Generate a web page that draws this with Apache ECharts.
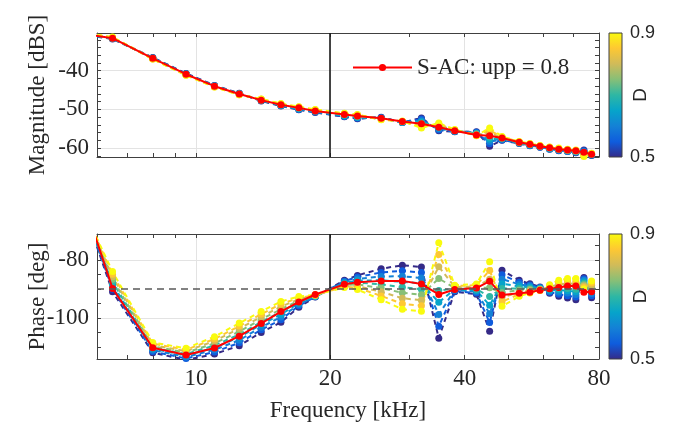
<!DOCTYPE html>
<html>
<head>
<meta charset="utf-8">
<script src="https://cdn.jsdelivr.net/npm/echarts@6/dist/echarts.min.js"></script>
<style>
  html, body { margin: 0; padding: 0; background: #ffffff; }
  #chart { width: 674px; height: 426px; }
</style>
</head>
<body>
<div id="chart"></div>
<script>
// Measurement frequencies, kHz
const freq = [5.0, 6.5, 8.0, 9.5, 11.0, 12.5, 14.0, 15.5, 17.0, 18.5, 21.5, 23.0, 26.0, 29.0, 32.0,
              35.0, 38.0, 42.5, 45.5, 48.5, 53.0, 56.0, 59.0, 62.0, 65.0, 68.0, 71.0, 74.0, 77.0];

// Duty-cycle sweep
const dutyValues = [0.50, 0.55, 0.60, 0.65, 0.70, 0.75, 0.80, 0.85, 0.90];
const dutyRange = [0.5, 0.9];

// Magnitude [dBS] per duty cycle
const magD050 = [-29.8,-31.8,-36.6,-40.7,-43.8,-45.8,-47.8,-49.1,-50.1,-50.8,-51.9,-52.4,-52.0,-53.4,-52.2,-55.5,-55.8,-55.8,-59.5,-58.0,-58.8,-59.4,-59.8,-60.3,-60.7,-60.9,-61.2,-60.5,-61.9];
const magD055 = [-29.8,-31.7,-36.7,-40.8,-43.9,-45.9,-47.7,-49.0,-50.0,-50.7,-51.8,-52.3,-52.1,-53.4,-52.5,-55.3,-55.7,-55.9,-58.9,-57.9,-58.7,-59.3,-59.7,-60.2,-60.6,-60.8,-61.1,-60.7,-61.8];
const magD060 = [-29.7,-31.7,-36.7,-40.8,-43.9,-45.9,-47.7,-49.0,-49.9,-50.6,-51.7,-52.1,-52.2,-53.3,-52.9,-55.0,-55.7,-56.1,-58.3,-57.8,-58.7,-59.3,-59.7,-60.2,-60.5,-60.8,-61.0,-60.9,-61.8];
const magD065 = [-29.7,-31.6,-36.8,-40.9,-44.0,-46.0,-47.6,-48.9,-49.8,-50.5,-51.6,-52.0,-52.3,-53.3,-53.2,-54.8,-55.6,-56.2,-57.7,-57.6,-58.6,-59.2,-59.6,-60.1,-60.4,-60.7,-60.9,-61.1,-61.7];
const magD070 = [-29.6,-31.6,-36.8,-41.0,-44.0,-46.0,-47.6,-48.8,-49.7,-50.4,-51.5,-51.9,-52.4,-53.2,-53.5,-54.5,-55.5,-56.3,-57.2,-57.5,-58.6,-59.1,-59.6,-60.0,-60.4,-60.6,-60.9,-61.4,-61.6];
const magD075 = [-29.6,-31.5,-36.9,-41.0,-44.1,-46.1,-47.5,-48.7,-49.6,-50.3,-51.3,-51.7,-52.4,-53.2,-53.8,-54.3,-55.4,-56.4,-56.6,-57.4,-58.5,-59.0,-59.5,-59.9,-60.3,-60.5,-60.8,-61.6,-61.5];
const magD080 = [-29.5,-31.4,-36.9,-41.1,-44.1,-46.1,-47.4,-48.7,-49.5,-50.2,-51.2,-51.6,-52.5,-53.1,-54.2,-54.0,-55.4,-56.6,-56.0,-57.3,-58.4,-59.0,-59.4,-59.9,-60.2,-60.5,-60.7,-61.8,-61.5];
const magD085 = [-29.5,-31.4,-37.0,-41.1,-44.2,-46.2,-47.4,-48.6,-49.4,-50.1,-51.1,-51.4,-52.6,-53.1,-54.5,-53.8,-55.3,-56.7,-55.4,-57.1,-58.4,-58.9,-59.4,-59.8,-60.1,-60.4,-60.6,-62.0,-61.4];
const magD090 = [-29.4,-31.3,-37.0,-41.2,-44.2,-46.2,-47.3,-48.5,-49.3,-50.0,-51.0,-51.3,-52.7,-53.0,-54.8,-53.5,-55.2,-56.8,-54.8,-57.0,-58.3,-58.8,-59.3,-59.7,-60.0,-60.3,-60.5,-62.2,-61.3];

// Phase [deg] per duty cycle
const phD050 = [-40.0,-91.0,-112.0,-114.5,-112.5,-109.6,-105.0,-101.5,-96.3,-92.8,-87.0,-85.3,-83.0,-81.8,-82.4,-107.0,-91.0,-91.8,-104.6,-83.5,-87.0,-88.2,-89.3,-91.5,-92.5,-93.1,-93.7,-86.0,-93.0];
const phD055 = [-40.8,-90.1,-111.6,-114.0,-111.8,-108.6,-104.1,-100.6,-95.8,-92.7,-87.3,-85.9,-84.3,-83.7,-84.3,-102.9,-90.7,-91.4,-101.6,-85.1,-87.7,-88.6,-89.5,-91.1,-91.8,-92.3,-92.8,-86.5,-92.3];
const phD060 = [-41.6,-89.3,-111.1,-113.5,-111.0,-107.7,-103.2,-99.7,-95.4,-92.6,-87.6,-86.5,-85.7,-85.6,-86.2,-98.8,-90.4,-90.9,-98.6,-86.6,-88.4,-89.0,-89.6,-90.8,-91.1,-91.4,-91.9,-87.0,-91.6];
const phD065 = [-42.4,-88.4,-110.7,-113.0,-110.3,-106.7,-102.3,-98.8,-94.9,-92.5,-87.9,-87.1,-87.0,-87.5,-88.1,-94.6,-90.1,-90.5,-95.6,-88.2,-89.1,-89.4,-89.8,-90.4,-90.4,-90.6,-91.0,-87.5,-90.8];
const phD070 = [-43.3,-87.5,-110.3,-112.5,-109.5,-105.7,-101.4,-97.9,-94.5,-92.4,-88.3,-87.8,-88.4,-89.4,-90.1,-90.5,-89.9,-90.1,-92.6,-89.8,-89.8,-89.8,-89.9,-90.0,-89.8,-89.8,-90.1,-88.0,-90.1];
const phD075 = [-44.1,-86.6,-109.8,-112.0,-108.8,-104.7,-100.5,-97.0,-94.0,-92.3,-88.6,-88.4,-89.7,-91.3,-92.0,-86.4,-89.6,-89.6,-89.6,-91.3,-90.4,-90.2,-90.1,-89.6,-89.1,-88.9,-89.1,-88.5,-89.4];
const phD080 = [-44.9,-85.8,-109.4,-111.5,-108.0,-103.7,-99.6,-96.1,-93.5,-92.2,-88.9,-89.0,-91.0,-93.2,-93.9,-82.3,-89.3,-89.2,-86.6,-92.9,-91.1,-90.6,-90.2,-89.3,-88.4,-88.1,-88.2,-89.0,-88.7];
const phD085 = [-45.7,-84.9,-108.9,-111.0,-107.3,-102.8,-98.7,-95.2,-93.1,-92.1,-89.2,-89.6,-92.4,-95.1,-95.8,-78.1,-89.0,-88.7,-83.6,-94.4,-91.8,-91.0,-90.4,-88.9,-87.7,-87.2,-87.3,-89.5,-87.9];
const phD090 = [-46.5,-84.0,-108.5,-110.5,-106.5,-101.8,-97.8,-94.3,-92.6,-92.0,-89.5,-90.2,-93.7,-97.0,-97.7,-74.0,-88.7,-88.3,-80.6,-96.0,-92.5,-91.4,-90.5,-88.5,-87.0,-86.4,-86.4,-90.0,-87.2];

// S-AC reference, upp = 0.8
const sacName = 'S-AC: upp = 0.8';
const sacMag   = [-29.6,-31.6,-36.8,-40.9,-44.0,-46.0,-47.6,-48.8,-49.6,-50.4,-51.3,-51.7,-52.3,-53.1,-53.7,-54.6,-55.5,-56.6,-56.8,-57.4,-58.5,-59.0,-59.5,-59.9,-60.3,-60.5,-60.7,-61.1,-61.6];
const sacPhase = [-36.8,-89.8,-110.3,-112.8,-110.4,-106.3,-101.9,-97.8,-94.5,-91.9,-88.4,-87.7,-87.2,-87.2,-88.3,-91.9,-90.2,-89.7,-87.3,-92.1,-91.5,-91.1,-90.4,-89.9,-89.5,-89.0,-89.0,-91.1,-91.0];

// Axis limits, ticks and labels
const freqLimits = [6, 80];
const freqTicks = [6, 7, 8, 9, 10, 20, 30, 40, 50, 60, 70, 80];
const freqTickLabels = [10, 20, 40, 80];
const freqMarker = 20;
const magLimits = [-62.3, -30.25];
const magTicks = [-62, -60, -58, -56, -54, -52, -50, -48, -46, -44, -42, -40, -38, -36, -34, -32];
const magTickLabels = [-60, -50, -40];
const phaseLimits = [-114.2, -71.0];
const phaseTicks = [-110, -105, -100, -95, -90, -85, -80, -75];
const phaseTickLabels = [-100, -80];
const phaseRef = -90;
const dutyTickLabels = [0.5, 0.9];

const magSeries = [magD050, magD055, magD060, magD065, magD070, magD075, magD080, magD085, magD090];
const phaseSeries = [phD050, phD055, phD060, phD065, phD070, phD075, phD080, phD085, phD090];

// Parula-like colormap
const parulaStops = [[53,42,135],[15,92,221],[20,129,214],[6,164,202],[46,183,164],[135,191,119],[209,187,89],[254,200,50],[249,251,14]];
function parula(t) {
  const n = parulaStops.length - 1;
  const p = Math.min(Math.max(t, 0), 1) * n;
  const i = Math.min(Math.floor(p), n - 1);
  const f = p - i;
  const a = parulaStops[i], b = parulaStops[i + 1];
  const c = a.map((v, j) => Math.round(v + (b[j] - v) * f));
  return 'rgb(' + c.join(',') + ')';
}
const dutyColor = d => parula((d - dutyRange[0]) / (dutyRange[1] - dutyRange[0]));

const L2 = Math.log2;
const AX = '#404040';
const TXT = '#262626';
const SERIF = 'Liberation Serif';
const SANS = 'Liberation Sans';
const TICK = 4;

const G = [
  { left: 97, top: 33, width: 502, height: 124 },
  { left: 97, top: 234, width: 502, height: 125 }
];
const CB = [
  { left: 609, top: 33, width: 13, height: 124 },
  { left: 609, top: 234, width: 13, height: 125 }
];

function xAxesFor(gi, withLabels) {
  const base = { type: 'value', gridIndex: gi, min: L2(freqLimits[0]), max: L2(freqLimits[1]) };
  return [
    Object.assign({}, base, {
      position: 'bottom',
      axisLine: { show: true, onZero: false, lineStyle: { color: AX, width: 1 } },
      axisTick: { show: true, inside: true, length: TICK, customValues: freqTicks.map(L2), lineStyle: { color: AX } },
      axisLabel: { show: withLabels, customValues: freqTickLabels.map(L2), formatter: v => String(Math.round(Math.pow(2, v))),
                   fontFamily: SERIF, fontSize: 23, color: TXT, margin: 8 },
      splitLine: { show: false },
      name: withLabels ? 'Frequency [kHz]' : '', nameLocation: 'middle', nameGap: 40, nameMoveOverlap: false,
      nameTextStyle: { fontFamily: SERIF, fontSize: 23, color: TXT }
    }),
    Object.assign({}, base, {
      position: 'top',
      axisLine: { show: true, onZero: false, lineStyle: { color: AX, width: 1 } },
      axisTick: { show: true, inside: true, length: TICK, customValues: freqTicks.map(L2), lineStyle: { color: AX } },
      axisLabel: { show: false }, splitLine: { show: false }
    }),
    Object.assign({}, base, {
      position: 'bottom',
      axisLine: { show: false, onZero: false },
      axisTick: { show: false, customValues: freqTickLabels.map(L2) },
      axisLabel: { show: false },
      splitLine: { show: true, lineStyle: { color: '#e3e3e3', width: 1 } }
    })
  ];
}

function yAxesFor(gi, limits, ticks, labels, name) {
  const base = { type: 'value', gridIndex: gi, min: limits[0], max: limits[1] };
  return [
    Object.assign({}, base, {
      position: 'left',
      axisLine: { show: true, onZero: false, lineStyle: { color: AX, width: 1 } },
      axisTick: { show: true, inside: true, length: TICK, customValues: ticks, lineStyle: { color: AX } },
      axisLabel: { show: true, customValues: labels, fontFamily: SERIF, fontSize: 23, color: TXT, margin: 8 },
      splitLine: { show: false },
      name: name, nameLocation: 'middle', nameGap: 48, nameRotate: 90, nameMoveOverlap: false,
      nameTextStyle: { fontFamily: SERIF, fontSize: 23, color: TXT }
    }),
    Object.assign({}, base, {
      position: 'right',
      axisLine: { show: true, onZero: false, lineStyle: { color: AX, width: 1 } },
      axisTick: { show: true, inside: true, length: TICK, customValues: ticks, lineStyle: { color: AX } },
      axisLabel: { show: false }, splitLine: { show: false }
    }),
    Object.assign({}, base, {
      position: 'left',
      axisLine: { show: false, onZero: false },
      axisTick: { show: false, customValues: labels },
      axisLabel: { show: false },
      splitLine: { show: true, lineStyle: { color: '#e3e3e3', width: 1 } }
    })
  ];
}

const xAxis = [].concat(xAxesFor(0, false), xAxesFor(1, true), [
  { type: 'value', gridIndex: 2, min: 0, max: 1, show: false },
  { type: 'value', gridIndex: 3, min: 0, max: 1, show: false }
]);

function colorbarAxis(gi) {
  return {
    type: 'value', gridIndex: gi, position: 'right', min: dutyRange[0], max: dutyRange[1],
    axisLine: { show: false }, axisTick: { show: false }, splitLine: { show: false },
    axisLabel: { show: true, customValues: dutyTickLabels, formatter: v => v.toFixed(1),
                 fontFamily: SANS, fontSize: 18, color: TXT, margin: 8 },
    name: 'D', nameLocation: 'middle', nameGap: 9, nameRotate: 90, nameMoveOverlap: false,
    nameTextStyle: { fontFamily: SANS, fontSize: 19, color: TXT }
  };
}

const yAxis = [].concat(
  yAxesFor(0, magLimits, magTicks, magTickLabels, 'Magnitude [dBS]'),
  yAxesFor(1, phaseLimits, phaseTicks, phaseTickLabels, 'Phase [deg]'),
  [colorbarAxis(2), colorbarAxis(3)]
);

const series = [];

function addPanel(gi, valueSets, sacValues) {
  const xi = gi * 3, yi = gi * 3;
  // vertical marker at 20 kHz
  series.push({
    type: 'line', xAxisIndex: xi, yAxisIndex: yi, data: [], silent: true, z: 1,
    markLine: { silent: true, symbol: ['none', 'none'], label: { show: false }, animation: false,
                data: [{ xAxis: L2(freqMarker), lineStyle: { color: '#1a1a1a', width: 1.6, type: 'solid' } }] }
  });
  valueSets.forEach((vals, k) => {
    const c = dutyColor(dutyValues[k]);
    series.push({
      name: 'D = ' + dutyValues[k].toFixed(2),
      type: 'line', xAxisIndex: xi, yAxisIndex: yi,
      data: freq.map((f, i) => [L2(f), vals[i]]),
      symbol: 'circle', symbolSize: 7, showAllSymbol: true,
      itemStyle: { color: c },
      lineStyle: { color: c, width: 2, type: [5, 4] },
      z: 2, silent: true
    });
  });
  if (gi === 1) {
    // -90 deg reference
    series.push({
      type: 'line', xAxisIndex: xi, yAxisIndex: yi, data: [], silent: true, z: 3,
      markLine: { silent: true, symbol: ['none', 'none'], label: { show: false }, animation: false,
                  data: [{ yAxis: phaseRef, lineStyle: { color: '#5a5a5a', width: 1.6, type: [7, 5] } }] }
    });
  }
  series.push({
    name: sacName, type: 'line', xAxisIndex: xi, yAxisIndex: yi,
    data: freq.map((f, i) => [L2(f), sacValues[i]]),
    symbol: 'circle', symbolSize: 7, showAllSymbol: true,
    itemStyle: { color: '#ff0000' },
    lineStyle: { color: '#ff0000', width: 2 },
    z: 4, silent: true
  });
}

addPanel(0, magSeries, sacMag);
addPanel(1, phaseSeries, sacPhase);

// colorbars
const gradStops = parulaStops.map((c, i) => ({ offset: 1 - i / (parulaStops.length - 1), color: 'rgb(' + c.join(',') + ')' }));
[2, 3].forEach(gi => {
  series.push({
    type: 'custom', xAxisIndex: gi + 4, yAxisIndex: gi + 4, silent: true,
    data: [[0, dutyRange[0], 1, dutyRange[1]]],
    encode: { x: [0, 2], y: [1, 3] },
    renderItem: (params, api) => {
      const p0 = api.coord([api.value(0), api.value(1)]);
      const p1 = api.coord([api.value(2), api.value(3)]);
      return {
        type: 'rect',
        shape: { x: p0[0], y: p1[1], width: p1[0] - p0[0], height: p0[1] - p1[1] },
        style: { fill: new echarts.graphic.LinearGradient(0, 0, 0, 1, gradStops.slice().reverse()), stroke: AX, lineWidth: 1 }
      };
    }
  });
});

const chart = echarts.init(document.getElementById('chart'), null, { renderer: 'canvas' });
chart.setOption({
  animation: false,
  backgroundColor: '#ffffff',
  grid: [G[0], G[1], CB[0], CB[1]].map(g => Object.assign({ containLabel: false, outerBoundsMode: 'none' }, g)),
  xAxis: xAxis,
  yAxis: yAxis,
  legend: {
    data: [sacName], left: 347, top: 51,
    itemWidth: 59, itemHeight: 9, itemGap: 5,
    textStyle: { fontFamily: SERIF, fontSize: 23, color: TXT },
    selectedMode: false
  },
  series: series
});
</script>
</body>
</html>
